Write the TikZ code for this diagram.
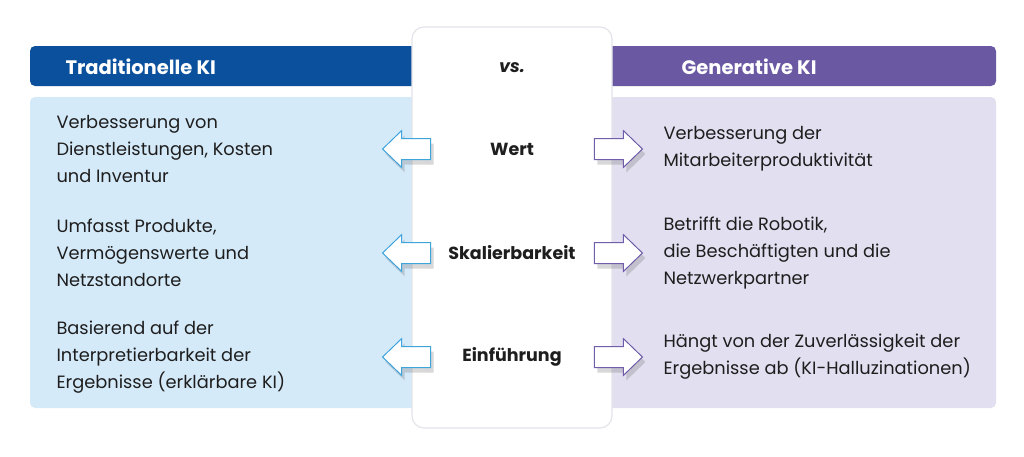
\documentclass[tikz,border=0pt]{standalone}
\usepackage{fontspec}
\setmainfont{Poppins}
\usetikzlibrary{shapes.arrows,shadows}
\definecolor{tradblue}{RGB}{11,80,156}
\definecolor{genpurple}{RGB}{106,88,163}
\definecolor{tradlight}{RGB}{213,234,249}
\definecolor{genlight}{RGB}{226,223,240}
\definecolor{tradline}{RGB}{62,165,220}
\definecolor{genline}{RGB}{112,94,170}
\definecolor{panelline}{RGB}{228,228,234}
\definecolor{bodytext}{RGB}{30,30,30}
\tikzset{
  headtext/.style={text=white,font=\bfseries\fontsize{19.5}{22}\selectfont,anchor=west},
  criterion/.style={text=bodytext,font=\bfseries\fontsize{17.5}{20}\selectfont},
  itemtext/.style={text=bodytext,align=left,anchor=west,font=\fontsize{17.8}{27}\selectfont},
  pointer/.style={single arrow,draw=#1,fill=white,line width=1pt,minimum height=48pt,
    inner sep=10pt,single arrow head extend=8pt,single arrow tip angle=88,
    drop shadow={shadow xshift=3pt,shadow yshift=-5pt,opacity=0.25,fill=black!60}}
}
\begin{document}
\begin{tikzpicture}[x=1pt,y=-1pt]
\useasboundingbox (0,0) rectangle (1024,456);
\fill[tradblue,rounded corners=5pt] (30,46) rectangle (420,86);
\fill[genpurple,rounded corners=5pt] (605,46) rectangle (996,86);
\fill[tradlight,rounded corners=5pt] (30,97) rectangle (420,408);
\fill[genlight,rounded corners=5pt] (605,97) rectangle (996,408);
\draw[panelline,fill=white,line width=1.2pt,rounded corners=12pt] (412,27) rectangle (612,428);
\node[headtext] (tradhead) at (62,67) {Traditionelle KI};
\node[headtext] (genhead) at (678,67) {Generative KI};
\node[criterion,font=\bfseries\itshape\fontsize{17.5}{20}\selectfont] (vs) at (512,68) {vs.};
\node[criterion] (wert) at (512,149) {Wert};
\node[criterion] (skal) at (512,253) {Skalierbarkeit};
\node[criterion] (einf) at (512,357) {Einführung};
\node[pointer=tradline,shape border rotate=180] (wertl) at (412,149) {};
\node[pointer=tradline,shape border rotate=180] (skall) at (412,253) {};
\node[pointer=tradline,shape border rotate=180] (einfl) at (412,357) {};
\node[pointer=genline] (wertr) at (613,149) {};
\node[pointer=genline] (skalr) at (613,253) {};
\node[pointer=genline] (einfr) at (613,357) {};
\node[itemtext] (wertt) at (53,149) {Verbesserung von\\Dienstleistungen, Kosten\\und Inventur};
\node[itemtext] (skalt) at (53,253) {Umfasst Produkte,\\Vermögenswerte und\\Netzstandorte};
\node[itemtext] (einft) at (53,357) {Basierend auf der\\Interpretierbarkeit der\\Ergebnisse (erklärbare KI)};
\node[itemtext] (wertg) at (660,149) {Verbesserung der\\Mitarbeiterproduktivität};
\node[itemtext] (skalg) at (660,253) {Betrifft die Robotik,\\die Beschäftigten und die\\Netzwerkpartner};
\node[itemtext] (einfg) at (660,357) {Hängt von der Zuverlässigkeit der\\Ergebnisse ab (KI-Halluzinationen)};
\end{tikzpicture}
\end{document}
